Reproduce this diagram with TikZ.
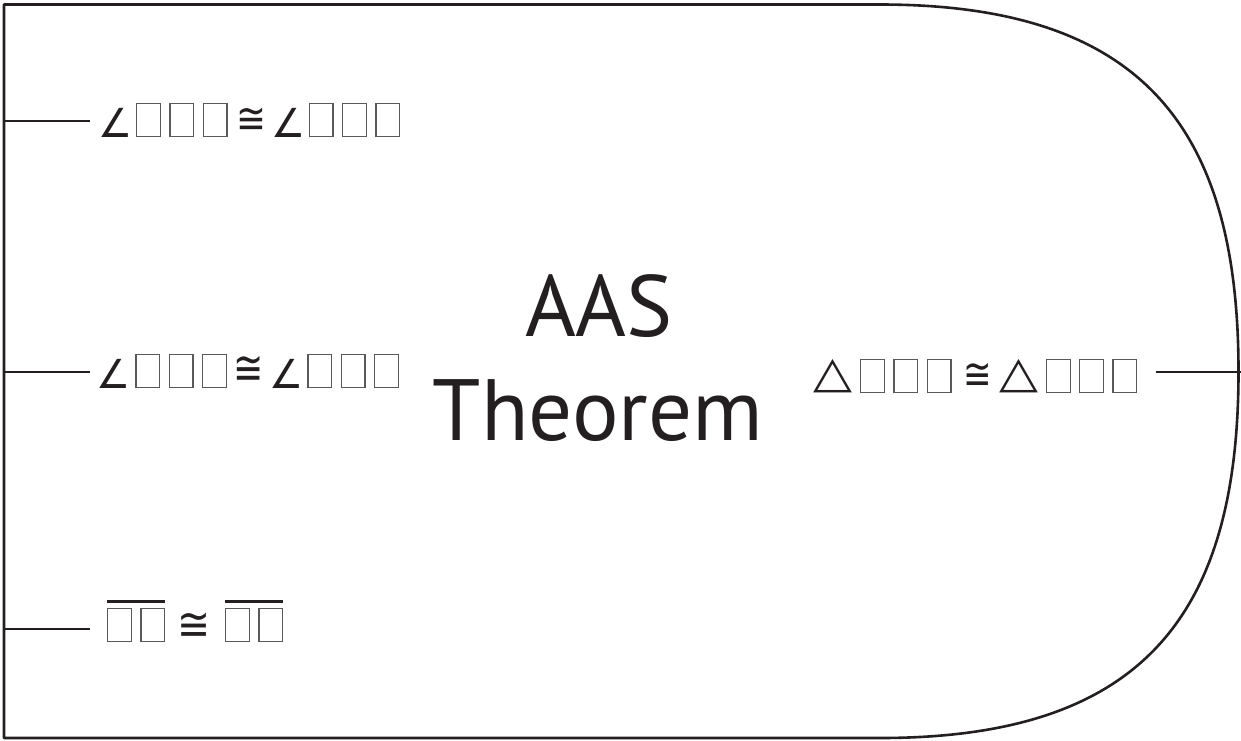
\documentclass[tikz,border=0pt]{standalone}
\usepackage{fontspec}
\setmainfont{PT Sans}
\newfontfamily\symf{DejaVu Sans}
\definecolor{ink}{HTML}{231F20}
\definecolor{boxgray}{HTML}{58595B}
% empty glyph box (as printed in the reference)
\newcommand\sqb{{\color{boxgray}\vrule width 1.3pt height 34pt depth 0pt\vbox to 34pt{\hrule width 22.4pt height 1.3pt\vfil\hrule height 1.3pt}\vrule width 1.3pt height 34pt depth 0pt}}
% angle sign, ink width 26.4pt
\newcommand\ag{\scalebox{0.95}[1]{\symf\fontsize{40}{48}\selectfont\kern-3.6pt ∠\kern-4.4pt}}
% congruence sign: #1 xscale, #2 yscale, #3 raise
\newcommand\cg[3]{\raisebox{#3pt}{\scalebox{#1}[#2]{\symf\fontsize{42}{48}\selectfont\kern-4.2pt ≅\kern-4.41pt}}}
% triangle sign, ink width 38.3pt, sitting on the baseline
\newcommand\tr{\raisebox{5.2pt}{\scalebox{1.16}[1]{\symf\fontsize{43.7}{48}\selectfont\kern-0.44pt △\kern-0.22pt}}}
\newcommand\ovl[1]{\vbox{\hrule height 2.6pt\kern 5.4pt\hbox{#1}}}
\begin{document}
\begin{tikzpicture}[x=1pt,y=-1pt,
  outline/.style={draw=ink, line width=2.6pt, line join=round},
  tick/.style={draw=ink, line width=2.6pt},
  symrow/.style={anchor=base west, inner sep=0pt, text=ink},
  title/.style={anchor=base, inner sep=0pt, text=ink, font=\fontsize{87}{100}\selectfont}]
\useasboundingbox (0,0) rectangle (1241,740);
\draw[outline] (4,4.5) -- (880,4.5) .. controls (1140,4.5) and (1238.5,125) .. (1238.5,371.5)
  .. controls (1238.5,618) and (1140,738) .. (880,738) -- (4,738) -- cycle;
\coordinate (a1) at (4,121); \coordinate (b1) at (90,121);
\coordinate (a2) at (4,372); \coordinate (b2) at (90,372);
\coordinate (a3) at (4,629); \coordinate (b3) at (90,629);
\coordinate (a4) at (1156,372); \coordinate (b4) at (1241,372);
\draw[tick] (a1) -- (b1);
\draw[tick] (a2) -- (b2);
\draw[tick] (a3) -- (b3);
\draw[tick] (a4) -- (b4);
\node[symrow] (r1) at (101.7,137) {\ag\kern7.6pt\sqb\kern8.3pt\sqb\kern8.3pt\sqb\kern13pt\cg{0.85}{1.02}{3.1}\kern12pt\ag\kern7pt\sqb\kern8.3pt\sqb\kern8.3pt\sqb};
\node[symrow] (r2) at (100,388) {\ag\kern8.6pt\sqb\kern8.3pt\sqb\kern8.3pt\sqb\kern10.4pt\cg{0.86}{1.13}{3.7}\kern12.3pt\ag\kern8.6pt\sqb\kern8.3pt\sqb\kern8.3pt\sqb};
\node[symrow] (r3) at (106.7,642) {\ovl{\sqb\kern8.3pt\sqb}\kern16.7pt\cg{0.94}{1.1}{1.1}\kern18.3pt\ovl{\sqb\kern8.3pt\sqb}};
\node[symrow] (r4) at (813.3,393) {\tr\kern8.3pt\sqb\kern8.3pt\sqb\kern8.3pt\sqb\kern15.4pt\cg{0.81}{1.05}{4.0}\kern11.7pt\tr\kern7.4pt\sqb\kern8.3pt\sqb\kern8.3pt\sqb};
\node[title] (t1) at (599,336) {AAS};
\node[title] (t2) at (598,440) {Theorem};
\end{tikzpicture}
\end{document}
